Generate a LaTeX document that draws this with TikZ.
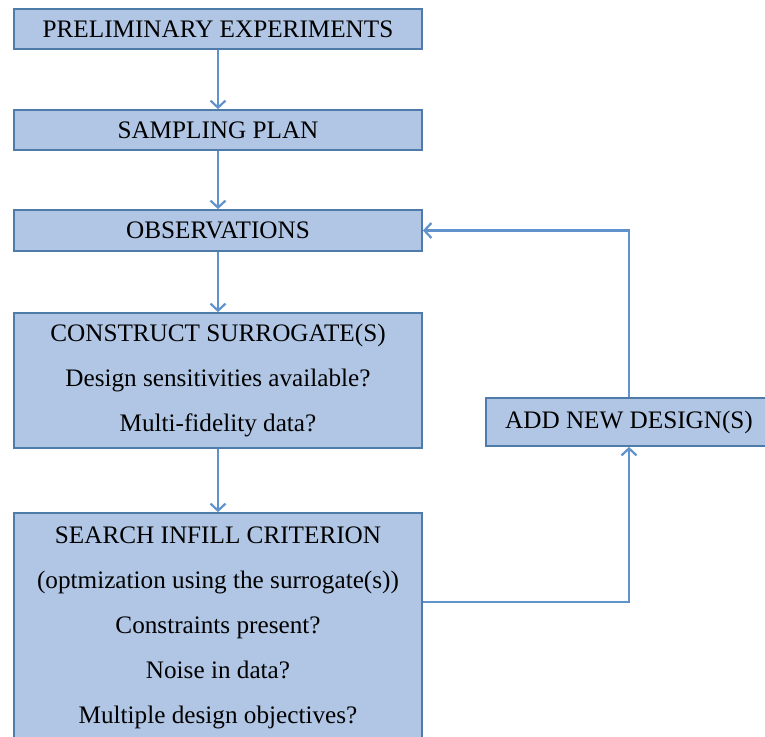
\documentclass[tikz,border=0pt]{standalone}
\usepackage{fontspec}
\setmainfont{Liberation Serif}
\usetikzlibrary{arrows.meta}

\definecolor{boxfill}{HTML}{B0C6E4}
\definecolor{boxline}{HTML}{4F7BAA}
\definecolor{flowline}{HTML}{6092CB}

\tikzset{
  stage/.style={draw=boxline,fill=boxfill,line width=1.8pt,inner sep=0pt,align=center,
    font=\fontsize{25.2}{45}\selectfont},
  flow/.style={-{Straight Barb[length=7pt,width=15pt,line width=2.2pt]},draw=flowline,line width=2.8pt}
}

\begin{document}
\begin{tikzpicture}[x=1pt,y=-1pt]
\clip (0,0) rectangle (765,736);
\node[stage,minimum width=408pt,minimum height=40pt] (0) at (218,29) {PRELIMINARY EXPERIMENTS};
\node[stage,minimum width=408pt,minimum height=40pt] (1) at (218,130) {SAMPLING PLAN};
\node[stage,minimum width=408pt,minimum height=41pt] (2) at (218,230.5) {OBSERVATIONS};
\node[stage,minimum width=408pt,minimum height=135pt] (3) at (218,380.5) {CONSTRUCT SURROGATE(S)\\Design sensitivities available?\\Multi-fidelity data?};
\node[stage,minimum width=408pt,minimum height=229pt] (4) at (218,627.5) {SEARCH INFILL CRITERION\\(optmization using the surrogate(s))\\Constraints present?\\Noise in data?\\Multiple design objectives?};
\node[stage,minimum width=286pt,minimum height=48pt] (5) at (629,422) {ADD NEW DESIGN(S)};

\path [flow] (0) edge (1);
\path [flow] (1) edge (2);
\path [flow] (2) edge (3);
\path [flow] (3) edge (4);
\draw [flow] ([yshift=25.5pt]4.east) -| (5.south);
\draw [flow] (5.north) |- (2.east);
\end{tikzpicture}
\end{document}
